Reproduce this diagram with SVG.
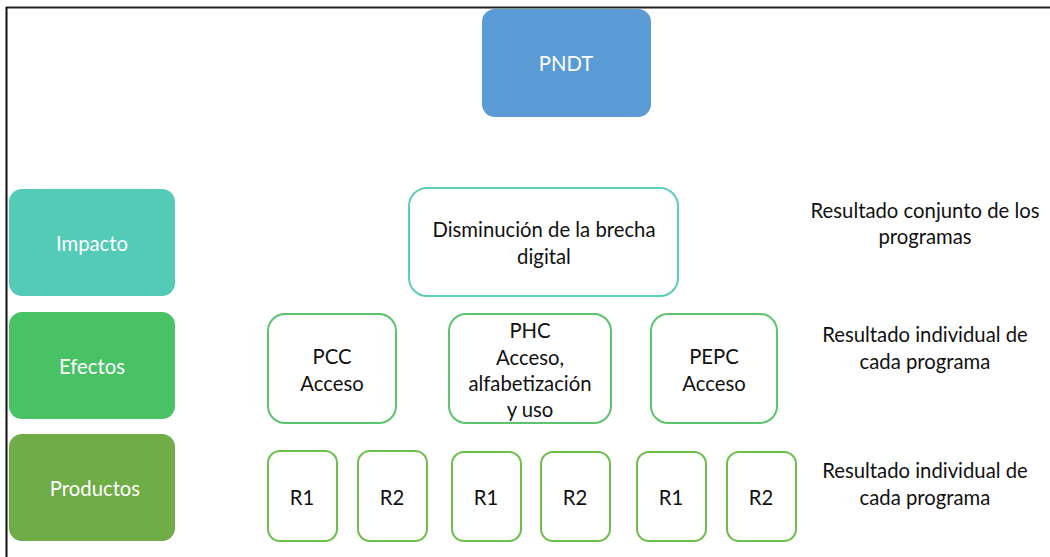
<svg xmlns="http://www.w3.org/2000/svg" width="1050" height="557" viewBox="0 0 1050 557">
<style>
  text { font-family: Lato, "Open Sans", "Liberation Sans", sans-serif; font-size: 20.3px; text-anchor: middle; dominant-baseline: central; }
  .w { fill: #ffffff; }
  .k { fill: #111111; }
  .imp { fill: #53cbb7; }
  .efe { fill: #48c265; }
  .pro { fill: #70ad47; }
  .oteal { fill: #ffffff; stroke: #5ccdb8; stroke-width: 2; }
  .ogreen { fill: #ffffff; stroke: #5cc46e; stroke-width: 2; }
  .olime { fill: #ffffff; stroke: #6cc04a; stroke-width: 2; }
</style>
<rect width="1050" height="557" fill="#ffffff"/>
<g id="frame">
  <line x1="6" y1="7.5" x2="1050" y2="7.5" stroke="#222" stroke-width="2"/>
  <line x1="6.5" y1="7" x2="6.5" y2="557" stroke="#111" stroke-width="2"/>
</g>
<g id="connectors"></g>
<g id="pndt"><rect x="482" y="9" width="169" height="108" rx="13" fill="#5b9bd5"/><text x="566" y="63" class="w">PNDT</text></g>
<g id="impacto"><rect x="9" y="189" width="166" height="107" rx="13" class="imp"/><text x="92" y="243" class="w">Impacto</text></g>
<g id="efectos"><rect x="9" y="312" width="166" height="107" rx="13" class="efe"/><text x="92" y="366" class="w">Efectos</text></g>
<g id="productos"><rect x="9" y="434" width="166" height="107" rx="13" class="pro"/><text x="95" y="488" class="w">Productos</text></g>
<g id="disminucion"><rect x="409" y="188" width="269" height="108" rx="18" class="oteal"/><text x="544" y="229" class="k">Disminución de la brecha</text><text x="544" y="256" class="k">digital</text></g>
<g id="pcc"><rect x="268" y="314" width="128" height="109" rx="17" class="ogreen"/><text x="332" y="356" class="k">PCC</text><text x="332" y="383" class="k">Acceso</text></g>
<g id="phc"><rect x="449" y="314" width="162" height="109" rx="17" class="ogreen"/><text x="530" y="330" class="k">PHC</text><text x="530" y="357" class="k">Acceso,</text><text x="530" y="383" class="k">alfabetización</text><text x="530" y="409" class="k">y uso</text></g>
<g id="pepc"><rect x="651" y="314" width="126" height="109" rx="17" class="ogreen"/><text x="714" y="356" class="k">PEPC</text><text x="714" y="383" class="k">Acceso</text></g>
<g id="r1a"><rect x="268" y="451" width="69" height="90" rx="12" class="olime"/><text x="302" y="497" class="k">R1</text></g>
<g id="r2a"><rect x="358" y="451" width="69" height="90" rx="12" class="olime"/><text x="392" y="497" class="k">R2</text></g>
<g id="r1b"><rect x="452" y="452" width="69" height="89" rx="12" class="olime"/><text x="486" y="497" class="k">R1</text></g>
<g id="r2b"><rect x="541" y="452" width="69" height="89" rx="12" class="olime"/><text x="575" y="497" class="k">R2</text></g>
<g id="r1c"><rect x="637" y="452" width="69" height="89" rx="12" class="olime"/><text x="671" y="497" class="k">R1</text></g>
<g id="r2c"><rect x="727" y="452" width="69" height="89" rx="12" class="olime"/><text x="761" y="497" class="k">R2</text></g>
<g id="label-impacto"><text x="925" y="210" class="k">Resultado conjunto de los</text><text x="925" y="236" class="k">programas</text></g>
<g id="label-efectos"><text x="925" y="334" class="k">Resultado individual de</text><text x="925" y="361" class="k">cada programa</text></g>
<g id="label-productos"><text x="925" y="470" class="k">Resultado individual de</text><text x="925" y="497" class="k">cada programa</text></g>
</svg>
